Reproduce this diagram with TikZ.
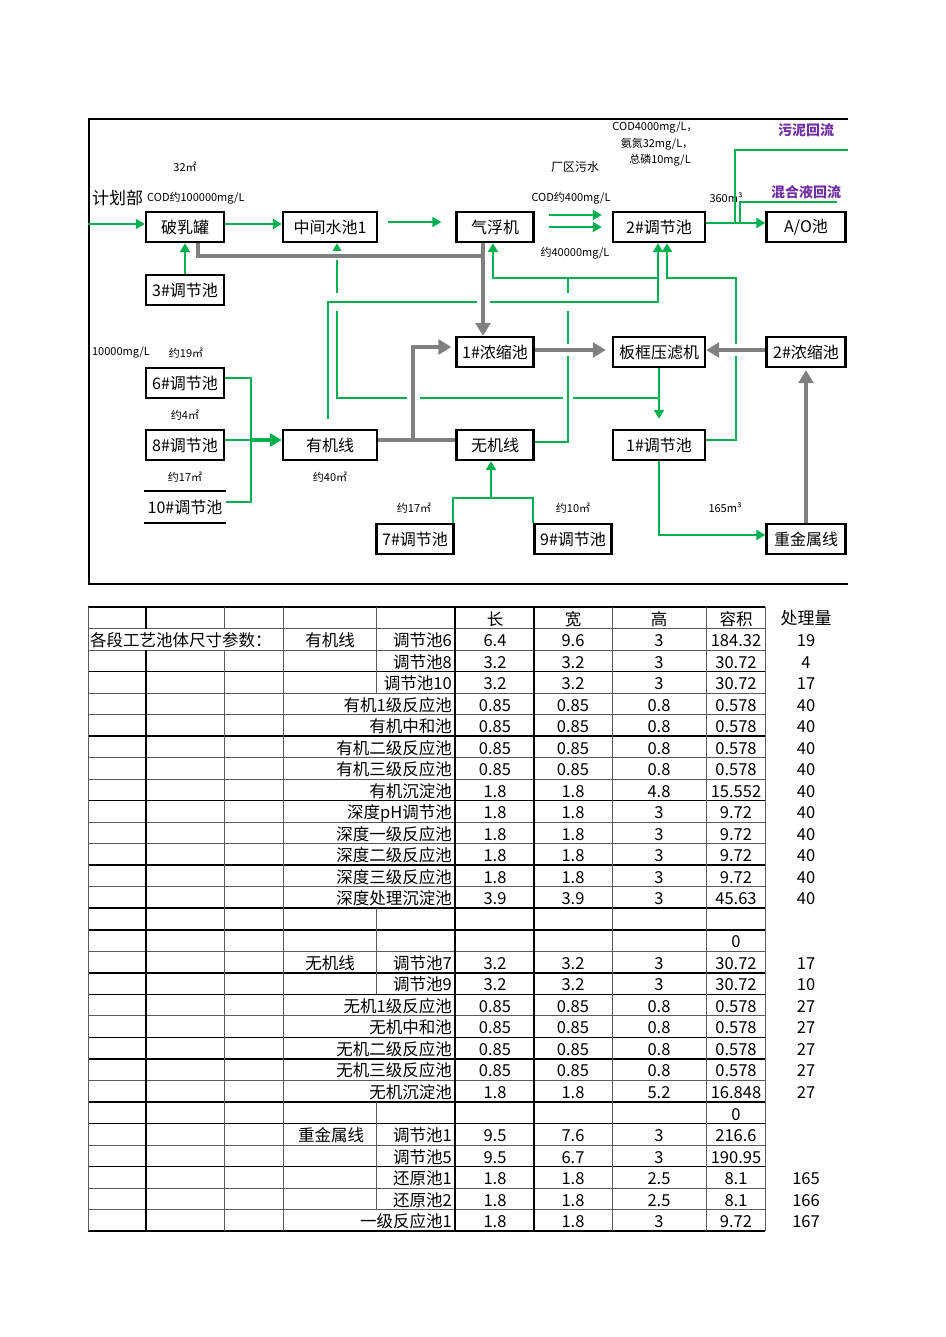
\documentclass[tikz,border=0pt]{standalone}
\usepackage{fontspec}
\setmainfont{Noto Sans CJK SC}
\usetikzlibrary{arrows.meta}
\definecolor{pipegreen}{RGB}{0,176,80}
\definecolor{sludgegrey}{RGB}{128,128,128}
\definecolor{backpurple}{RGB}{112,48,160}

\begin{document}
\begin{tikzpicture}[x=1pt,y=-1pt,
  tank/.style={draw,line width=2.4pt,minimum height=30pt,inner sep=0pt,font=\fontsize{16}{16}\selectfont},
  note/.style={inner sep=0pt,font=\fontsize{11}{11}\selectfont},
  back/.style={inner sep=0pt,text=backpurple,font=\bfseries\fontsize{14}{14}\selectfont},
  water/.style={draw=pipegreen,line width=2.8pt},
  wflow/.style={water,-{Triangle[length=9pt,width=10pt]}},
  sludge/.style={draw=sludgegrey,line width=4.5pt},
  sflow/.style={sludge,-{Triangle[length=13pt,width=15pt]}},
  hop/.style={preaction={draw=white,line width=#1}},
  cell/.style={inner sep=0pt,anchor=base,font=\fontsize{16.5}{16.5}\selectfont},
  thinrule/.style={draw=black!65,line width=0.8pt},
  thickrule/.style={draw=black,line width=1.6pt}]
  \useasboundingbox (0,0) rectangle (945,1337);
  % frame
  \draw [line width=2.6pt] (848,119) -- (89,119) -- (89,584) -- (848,584);
  % tanks
  \node [tank,minimum width=78pt] (bre) at (185,227) {破乳罐};
  \node [tank,minimum width=94pt] (mid) at (330,227) {中间水池1};
  \node [tank,minimum width=77pt] (fuji) at (495,227) {气浮机};
  \node [tank,minimum width=92pt] (tj2) at (659,227) {2\#调节池};
  \node [tank,minimum width=79pt] (ao) at (806,227) {A/O池};
  \node [tank,minimum width=78pt] (tj3) at (185,290) {3\#调节池};
  \node [tank,minimum width=77pt] (nc1) at (495,352) {1\#浓缩池};
  \node [tank,minimum width=92pt] (bk) at (659,352) {板框压滤机};
  \node [tank,minimum width=79pt] (nc2) at (806,352) {2\#浓缩池};
  \node [tank,minimum width=78pt] (tj6) at (185,383) {6\#调节池};
  \node [tank,minimum width=78pt] (tj8) at (185,445) {8\#调节池};
  \node [tank,draw=none,minimum width=80pt] (tj10) at (185,507) {10\#调节池};
  \draw [line width=2.4pt] (tj10.north west) -- (tj10.north east) (tj10.south west) -- (tj10.south east);
  \node [tank,minimum width=94pt] (yj) at (330,445) {有机线};
  \node [tank,minimum width=77pt] (wj) at (495,445) {无机线};
  \node [tank,minimum width=92pt] (tj1) at (659,445) {1\#调节池};
  \node [tank,minimum width=77pt] (tj7) at (415,539) {7\#调节池};
  \node [tank,minimum width=77pt] (tj9) at (573,539) {9\#调节池};
  \node [tank,minimum width=79pt] (zj) at (806,539) {重金属线};
  % labels
  \node [note] (v32) at (185,167) {32㎡};
  \node [inner sep=0pt,anchor=west,font=\fontsize{17}{17}\selectfont] (jhb) at (92,198) {计划部};
  \node [note,anchor=west] (cod1) at (147,198) {COD约100000mg/L};
  \node [inner sep=0pt,font=\fontsize{12}{12}\selectfont] (cq) at (575,167) {厂区污水};
  \node [note] (q1) at (655,128) {COD4000mg/L，};
  \node [note] (q2) at (657,144) {氨氮32mg/L，};
  \node [note] (q3) at (660,160) {总磷10mg/L};
  \node [back] (wnhl) at (806,130) {污泥回流};
  \node [back] (hyhl) at (806,192) {混合液回流};
  \node [note] (cod2) at (571,198) {COD约400mg/L};
  \node [note] (cod3) at (575,253) {约40000mg/L};
  \node [note] (v360) at (726,198) {360m³};
  \node [note] (c6) at (121,353) {10000mg/L};
  \node [note] (v19) at (186,353) {约19㎡};
  \node [note] (v4) at (185,415) {约4㎡};
  \node [note] (v17a) at (185,477) {约17㎡};
  \node [note] (v40) at (330,477) {约40㎡};
  \node [note] (v17b) at (414,508) {约17㎡};
  \node [note] (v10) at (573,508) {约10㎡};
  \node [note] (v165) at (725,508) {165m³};
  % junctions
  \coordinate (in) at (88,224);
  \coordinate (wn) at (848,150); \coordinate (wn2) at (735,224);
  \coordinate (hy) at (837,202); \coordinate (hy2) at (740,224);
  \coordinate (r1) at (659,398); \coordinate (r2) at (337,398);
  \coordinate (r3) at (328,302); \coordinate (r4) at (568,278);
  \coordinate (j1) at (658,278); \coordinate (r5) at (736,278);
  \coordinate (r6) at (251,378); \coordinate (r7) at (251,502); \coordinate (r8) at (251,440);
  \coordinate (r9) at (453,498); \coordinate (r10) at (533,498); \coordinate (r11) at (491,498);
  \coordinate (g1) at (483,256); \coordinate (g2) at (413,440);
  % water lines
  \draw [wflow] (in) -- (in -| bre.west);
  \draw [wflow] ([yshift=3pt]bre.east) -- ([yshift=3pt]mid.west);
  \draw [wflow,shorten <=10pt,shorten >=14pt] ([yshift=5pt]mid.east) -- ([yshift=5pt]fuji.west);
  \draw [wflow,shorten <=14pt,shorten >=10pt] ([yshift=12pt]fuji.east) -- ([yshift=12pt]tj2.west);
  \draw [wflow,shorten <=14pt,shorten >=10pt] (fuji.east) -- (tj2.west);
  \draw [wflow] ([yshift=4pt]tj2.east) -- ([yshift=4pt]ao.west);
  \draw [water] (wn) -| (wn2);
  \draw [water] (hy) -| (hy2);
  \draw [wflow] (tj3.north) -- (bre.south);
  \draw [wflow] (r1) -- (r2) -- (r2 |- mid.south);
  \draw [wflow,shorten >=10pt] (bk.south) -- (tj1.north);
  \draw [wflow,shorten <=10pt] (yj.north -| r3) -- (r3) -| ([xshift=-1pt]tj2.south);
  \draw [water] ([yshift=3pt]wj.east) -| (r4);
  \draw [wflow] (j1) -| ([xshift=-2pt]fuji.south);
  \draw [wflow] ([yshift=5pt]tj1.east) -| (r5) -| ([xshift=8pt]tj2.south);
  \draw [water] ([yshift=5pt]tj6.east) -- (r6) -- (r7) -- (r7 -| tj10.east);
  \draw [water] ([yshift=5pt]tj8.east) -- (r8);
  \draw [wflow,line width=4pt,-{Triangle[length=12pt,width=13pt]}] (r8) -- (r8 -| yj.west);
  \draw [water] (r9 |- tj7.north) -- (r9) -- (r10) -- (r10 |- tj9.north);
  \draw [wflow] (r11) -- (r11 |- wj.south);
  \draw [wflow] (tj1.south) |- ([yshift=4pt]zj.west);
  % sludge lines
  \draw [sludge] ([xshift=13pt]bre.south) |- (g1);
  \draw [sflow] ([xshift=-12pt]fuji.south) -- ([xshift=-12pt]nc1.north);
  \draw [sludge] ([yshift=5pt]yj.east) -- ([yshift=5pt]wj.west);
  \draw [sflow,shorten >=4pt] (g2) |- ([yshift=5pt]nc1.west);
  \draw [sflow,shorten >=6pt] ([yshift=2pt]nc1.east) -- ([yshift=2pt]bk.west);
  \draw [sflow] ([yshift=2pt]nc2.west) -- ([yshift=2pt]bk.east);
  \draw [sflow,shorten >=2pt] (zj.north) -- (nc2.south);
  % crossings
  \draw [water,hop=17pt] (333,302) -- (342,302);
  \draw [water,hop=17pt] (563,302) -- (573,302);
  \draw [water,hop=10pt] (568,393) -- (568,403);
  \draw [sludge,hop=13pt] (483,295) -- (483,309);
  \draw [sludge,hop=13pt] (413,392) -- (413,404);
  \draw [sludge,hop=12pt] (562,350) -- (574,350);
  \draw [sludge,hop=12pt] (730,350) -- (742,350);
  \draw [sludge,hop=9pt] (332,256) -- (342,256);
  % table
  \foreach \i in {0,...,29} \draw [thinrule] (88,{607+21.52*\i}) -- (765,{607+21.52*\i});
  \foreach \i in {0,3,6,9,12,14,15,17,18,20,21,23,24,26,29} \draw [thickrule] (88,{607+21.52*\i}) -- (765,{607+21.52*\i});
  \foreach \x in {88,283,612,706,765} \draw [thinrule] (\x,607) -- (\x,1231.1);
  \foreach \x in {455,534} \draw [thickrule] (\x,607) -- (\x,1231.1);
  \draw [thickrule] (146,607) -- (146,628.5) (146,650) -- (146,1231.1);
  \draw [thinrule] (224,607) -- (224,628.5) (224,650) -- (224,1231.1);
  \draw [thinrule] (376,607) -- (376,693.1) (376,908.3) -- (376,994.4) (376,1102) -- (376,1209.6);
  \node [cell] (hl) at (495,625) {长}; \node [cell] (hw) at (573,625) {宽};
  \node [cell] (hh) at (659,625) {高}; \node [cell] (hv) at (736,625) {容积};
  \node [cell,font=\fontsize{17}{17}\selectfont] (hq) at (806,624) {处理量};
  \node [cell,anchor=base west] (title) at (90,646.5) {各段工艺池体尺寸参数：};
  \node [cell] (gy) at (330,646.5) {有机线};
  \node [cell] (gw) at (330,969.3) {无机线};
  \node [cell] (gz) at (331,1141.5) {重金属线};
  \node [cell] (z15) at (736,947.8) {0};
  \node [cell] (z23) at (736,1120) {0};
  \foreach \i/\pname/\pl/\pw/\ph/\pv/\pq in {
    1/调节池6/6.4/9.6/3/184.32/19, 2/调节池8/3.2/3.2/3/30.72/4, 3/调节池10/3.2/3.2/3/30.72/17,
    4/有机1级反应池/0.85/0.85/0.8/0.578/40, 5/有机中和池/0.85/0.85/0.8/0.578/40,
    6/有机二级反应池/0.85/0.85/0.8/0.578/40, 7/有机三级反应池/0.85/0.85/0.8/0.578/40,
    8/有机沉淀池/1.8/1.8/4.8/15.552/40, 9/深度pH调节池/1.8/1.8/3/9.72/40,
    10/深度一级反应池/1.8/1.8/3/9.72/40, 11/深度二级反应池/1.8/1.8/3/9.72/40,
    12/深度三级反应池/1.8/1.8/3/9.72/40, 13/深度处理沉淀池/3.9/3.9/3/45.63/40,
    16/调节池7/3.2/3.2/3/30.72/17, 17/调节池9/3.2/3.2/3/30.72/10,
    18/无机1级反应池/0.85/0.85/0.8/0.578/27, 19/无机中和池/0.85/0.85/0.8/0.578/27,
    20/无机二级反应池/0.85/0.85/0.8/0.578/27, 21/无机三级反应池/0.85/0.85/0.8/0.578/27,
    22/无机沉淀池/1.8/1.8/5.2/16.848/27, 24/调节池1/9.5/7.6/3/216.6/{}, 25/调节池5/9.5/6.7/3/190.95/{},
    26/还原池1/1.8/1.8/2.5/8.1/165, 27/还原池2/1.8/1.8/2.5/8.1/166, 28/一级反应池1/1.8/1.8/3/9.72/167}{
    \node [cell,anchor=base east] (p\i) at (452,{625+21.52*\i}) {\pname};
    \node [cell] (l\i) at (495,{625+21.52*\i}) {\pl};
    \node [cell] (w\i) at (573,{625+21.52*\i}) {\pw};
    \node [cell] (h\i) at (659,{625+21.52*\i}) {\ph};
    \node [cell] (v\i) at (736,{625+21.52*\i}) {\pv};
    \node [cell] (q\i) at (806,{625+21.52*\i}) {\pq};
  }
\end{tikzpicture}
\end{document}
